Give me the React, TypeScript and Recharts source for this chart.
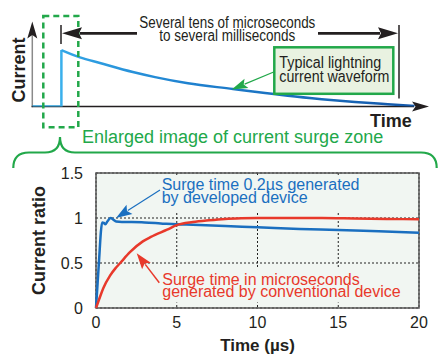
import React from 'react';
import {
  LineChart,
  ComposedChart,
  Line,
  XAxis,
  YAxis,
  CartesianGrid,
  ReferenceArea,
} from 'recharts';

// ---------- data ----------
// top schematic: typical lightning current waveform (arbitrary units)
const topRiseT = [0, 7.7, 7.7];
const topRiseI = [0, 0, 1];
const topDecayT = [7.7, 12.6, 17.9, 26.6, 32.5, 41.2, 53.1, 58.9, 67.6, 76.6, 85.4, 94.1, 101.2];
const topDecayI = [1, 0.87, 0.77, 0.61, 0.52, 0.41, 0.31, 0.26, 0.19, 0.13, 0.08, 0.04, 0.01];

// bottom chart: current ratio vs time (µs)
const devT = [0, 0.1, 0.2, 0.3, 0.38, 0.48, 0.58, 0.7, 0.9, 1.05, 1.25, 1.6, 2.2, 3, 4, 5, 6, 8, 10, 12.6, 15, 17.5, 20];
const devV = [0, 0.28, 0.56, 0.84, 0.95, 0.945, 0.93, 0.96, 1.0, 0.985, 0.96, 0.955, 0.955, 0.95, 0.94, 0.93, 0.925, 0.91, 0.897, 0.878, 0.867, 0.852, 0.837];
const convT = [0, 0.2, 0.45, 0.87, 1.2, 1.5, 2.1, 2.9, 3.4, 4.4, 5, 6, 7, 8, 9, 10, 12, 14, 16, 18, 20];
const convV = [0, 0.1, 0.22, 0.36, 0.44, 0.5, 0.62, 0.74, 0.79, 0.87, 0.92, 0.955, 0.975, 0.99, 0.997, 1.0, 1.0, 1.0, 0.995, 0.99, 0.985];

const xTicks = [0, 5, 10, 15, 20];
const yTicks = [0, 0.5, 1, 1.5];

const topRise = topRiseT.map((t, k) => ({ t, i: topRiseI[k] }));
const topDecay = topDecayT.map((t, k) => ({ t, i: topDecayI[k] }));
const devData = devT.map((t, k) => ({ t, v: devV[k] }));
const convData = convT.map((t, k) => ({ t, v: convV[k] }));

const FONT = "'Liberation Sans', Arial, Helvetica, sans-serif";
const INK = '#231f20';
const GREEN = '#22a84a';
const BLUE = '#1a6fc0';
const RED = '#e8392b';
const PLOT_BG = '#f1f6f2';

function Arrow({ x1, y1, x2, y2, len, half, color, w }: any) {
  const dx = x2 - x1;
  const dy = y2 - y1;
  const L = Math.sqrt(dx * dx + dy * dy);
  const ux = dx / L;
  const uy = dy / L;
  const bx = x2 - ux * len;
  const by = y2 - uy * len;
  const nx = -uy * half;
  const ny = ux * half;
  return (
    <g>
      <line x1={x1} y1={y1} x2={bx + ux * 2} y2={by + uy * 2} stroke={color} strokeWidth={w} />
      <polygon points={`${x2},${y2} ${bx + nx},${by + ny} ${bx + ux * 3},${by + uy * 3} ${bx - nx},${by - ny}`} fill={color} />
    </g>
  );
}

export default function App() {
  return (
    <div style={{ position: 'absolute', left: 0, top: 0, width: 438, height: 354, background: '#fff', fontFamily: FONT }}>
      {/* under layer: gradient + schematic axes */}
      <svg width={438} height={354} style={{ position: 'absolute', left: 0, top: 0 }}>
        <defs>
          <linearGradient id="topGrad" gradientUnits="userSpaceOnUse" x1={61} y1={0} x2={420} y2={0}>
            <stop offset="0" stopColor="#33a6e6" />
            <stop offset="0.35" stopColor="#1f82d0" />
            <stop offset="1" stopColor="#1356a8" />
          </linearGradient>
        </defs>
        <line x1={32.3} y1={107.2} x2={32.3} y2={34} stroke="#8a8a8a" strokeWidth={1.5} />
        <line x1={31.6} y1={106.5} x2={414} y2={106.5} stroke={INK} strokeWidth={1.5} />
      </svg>

      {/* top schematic */}
      <div style={{ position: 'absolute', left: 0, top: 0 }}>
        <LineChart width={438} height={354} margin={{ top: 21.8, right: 9, bottom: 247.5, left: 32.3 }}>
          <XAxis type="number" dataKey="t" domain={[0, 105]} height={0} tick={false} tickLine={false}
            axisLine={false} allowDataOverflow />
          <YAxis type="number" domain={[0, 1.5]} width={0} tick={false} tickLine={false}
            axisLine={false} allowDataOverflow />
          <Line data={topRise} dataKey="i" type="linear" stroke="#3ab0ec" strokeWidth={2.5} dot={false} isAnimationActive={false} />
          <Line data={topDecay} dataKey="i" type="monotone" stroke="url(#topGrad)" strokeWidth={2.5} dot={false} isAnimationActive={false} />
        </LineChart>
      </div>

      {/* bottom chart */}
      <div style={{ position: 'absolute', left: 0, top: 0 }}>
        <ComposedChart width={438} height={354} margin={{ top: 173, right: 19, bottom: 0, left: 0 }}>
          <CartesianGrid fill={PLOT_BG} stroke="#222" strokeDasharray="2 2" strokeWidth={1} />
          <XAxis type="number" dataKey="t" domain={[0, 20]} ticks={xTicks} height={46}
            axisLine={false} tickLine={false} tickSize={6} tickMargin={3}
            tick={{ fontSize: 16, fill: INK, fontFamily: FONT }} interval={0} />
          <YAxis type="number" domain={[0, 1.5]} ticks={yTicks} width={96}
            axisLine={false} tickLine={false} tickSize={6} tickMargin={7}
            tick={{ fontSize: 16, fill: INK, fontFamily: FONT }} interval={0} />
          <ReferenceArea x1={0} x2={20} y1={0} y2={1.5} fill="none" stroke="#555" strokeWidth={1.5} />
          <Line data={devData} dataKey="v" type="monotone" stroke={BLUE} strokeWidth={2.5} dot={false} isAnimationActive={false} />
          <Line data={convData} dataKey="v" type="monotone" stroke={RED} strokeWidth={2.5} dot={false} isAnimationActive={false} />
        </ComposedChart>
      </div>

      {/* annotations */}
      <svg width={438} height={354} style={{ position: 'absolute', left: 0, top: 0 }} fontFamily={FONT}>
        {/* top axis arrowheads */}
        <polygon points="32.3,21.5 27.3,38.5 32.3,35 37.3,38.5" fill={INK} />
        <polygon points="429,106.5 412,101.5 415.5,106.5 412,111.5" fill={INK} />
        <text transform="translate(25,70) rotate(-90)" textAnchor="middle" fontWeight="bold" fontSize={18} fill={INK}>Current</text>
        <text x={370} y={127} fontWeight="bold" fontSize={18} fill={INK}>Time</text>

        {/* dashed zoom box */}
        <rect x={43.3} y={16} width={35} height={111.3} fill="none" stroke={GREEN} strokeWidth={2.5} strokeDasharray="6 4" />

        {/* duration span */}
        <line x1={61} y1={25} x2={61} y2={44} stroke={INK} strokeWidth={1.5} />
        <line x1={399} y1={25} x2={399} y2={98.5} stroke={INK} strokeWidth={1.5} />
        <Arrow x1={137} y1={33.3} x2={62} y2={33.3} len={20} half={6} color={INK} w={2.7} />
        <Arrow x1={318} y1={33.3} x2={398} y2={33.3} len={20} half={6} color={INK} w={2.7} />
        <text x={139.3} y={28.3} fontSize={16} fill={INK} textLength={176} lengthAdjust="spacingAndGlyphs">Several tens of microseconds</text>
        <text x={159.3} y={40.7} fontSize={16} fill={INK} textLength={136} lengthAdjust="spacingAndGlyphs">to several milliseconds</text>

        {/* typical waveform callout */}
        <rect x={274.3} y={47.3} width={119} height={46.5} fill="#e9f2e1" stroke={GREEN} strokeWidth={2.5} />
        <text x={279.3} y={67.7} fontSize={16} fill={INK} textLength={102} lengthAdjust="spacingAndGlyphs">Typical lightning</text>
        <text x={279.3} y={81.7} fontSize={16} fill={INK} textLength={110} lengthAdjust="spacingAndGlyphs">current waveform</text>
        <Arrow x1={274.3} y1={71.7} x2={231.7} y2={89.5} len={16} half={5} color={GREEN} w={1.2} />

        {/* enlarged zone label + brace */}
        <text x={82} y={143} fontSize={18} fill={GREEN}>Enlarged image of current surge zone</text>
        <path d="M13.3,168 Q13.3,152.5 29,152.5 L45,152.5 Q60,152.5 60,137 Q60,152.5 75,152.5 L421,152.5 Q436.7,152.5 436.7,168"
          fill="none" stroke={GREEN} strokeWidth={2.2} />

        {/* bottom axis titles */}
        <text transform="translate(45,240.5) rotate(-90)" textAnchor="middle" fontWeight="bold" fontSize={18} fill={INK}>Current ratio</text>
        <text x={257.5} y={351} textAnchor="middle" fontWeight="bold" fontSize={17} fill={INK}>Time (µs)</text>

        {/* masks behind annotation texts (hide grid lines) */}
        <rect x={160} y={176} width={202} height={35} fill={PLOT_BG} />
        <rect x={160} y={269} width={242} height={33.5} fill={PLOT_BG} />

        {/* series annotations */}
        <text x={161.7} y={190} fontSize={16} fill={BLUE}>Surge time 0.2µs generated</text>
        <text x={161.7} y={203} fontSize={16} fill={BLUE}>by developed device</text>
        <Arrow x1={160} y1={190} x2={116} y2={218} len={16} half={5.5} color={BLUE} w={1.2} />

        <text x={162.3} y={284.5} fontSize={16} fill={RED}>Surge time in microseconds</text>
        <text x={162.3} y={297} fontSize={16} fill={RED}>generated by conventional device</text>
        <Arrow x1={159.3} y1={282.7} x2={136.7} y2={253.3} len={16} half={5.5} color={RED} w={1.5} />
      </svg>
    </div>
  );
}
